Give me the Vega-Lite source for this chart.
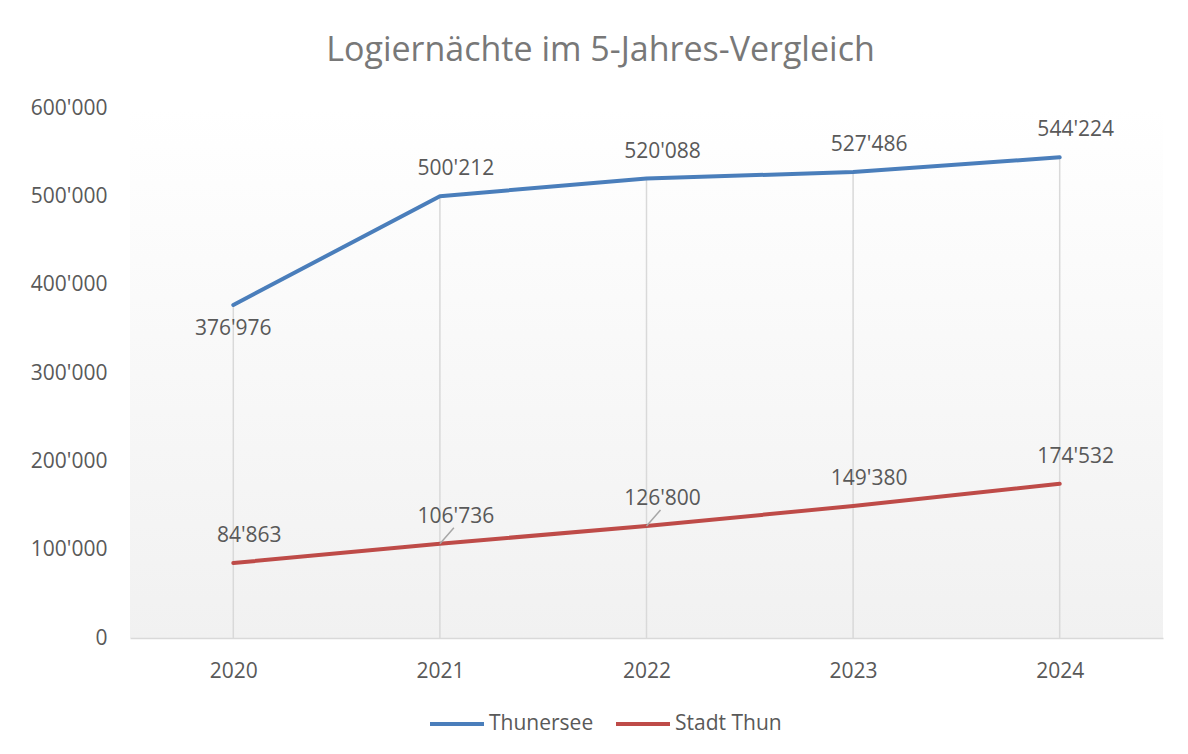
{
  "$schema": "https://vega.github.io/schema/vega-lite/v6.json",
  "autosize": "none",
  "width": 1033,
  "height": 530,
  "padding": {"left": 130, "top": 108, "right": 25, "bottom": 116},
  "background": "#ffffff",
  "title": {
    "text": "Logiernächte im 5-Jahres-Vergleich",
    "font": "Open Sans",
    "fontSize": 34,
    "fontWeight": "normal",
    "color": "#787878",
    "anchor": "middle",
    "baseline": "alphabetic",
    "offset": 2,
    "dx": -46
  },
  "config": {
    "locale": {"number": {"decimal": ".", "thousands": "'", "grouping": [3], "currency": ["CHF ", ""]}},
    "font": "Open Sans",
    "view": {
      "stroke": null,
      "fill": {"gradient": "linear", "x1": 0, "y1": 0, "x2": 0, "y2": 1,
        "stops": [{"offset": 0, "color": "#ffffff"}, {"offset": 1, "color": "#f1f1f1"}]}
    }
  },
  "data": {
    "values": [
      {"year": "2020", "series": "Thunersee", "value": 376976},
      {"year": "2021", "series": "Thunersee", "value": 500212},
      {"year": "2022", "series": "Thunersee", "value": 520088},
      {"year": "2023", "series": "Thunersee", "value": 527486},
      {"year": "2024", "series": "Thunersee", "value": 544224},
      {"year": "2020", "series": "Stadt Thun", "value": 84863},
      {"year": "2021", "series": "Stadt Thun", "value": 106736},
      {"year": "2022", "series": "Stadt Thun", "value": 126800},
      {"year": "2023", "series": "Stadt Thun", "value": 149380},
      {"year": "2024", "series": "Stadt Thun", "value": 174532}
    ]
  },
  "encoding": {
    "x": {
      "field": "year", "type": "ordinal",
      "scale": {"type": "point", "padding": 0.5},
      "axis": {
        "title": null, "labelAngle": 0, "grid": false, "ticks": false,
        "domain": true, "domainColor": "#d9d9d9", "domainWidth": 1.5,
        "labelFontSize": 21, "labelColor": "#595959", "labelPadding": 22
      }
    },
    "y": {
      "field": "value", "type": "quantitative",
      "scale": {"domain": [0, 600000], "nice": false, "zero": true},
      "axis": {
        "title": null, "grid": false, "ticks": false, "domain": false,
        "values": [0, 100000, 200000, 300000, 400000, 500000, 600000],
        "format": ",d", "labelFontSize": 21, "labelColor": "#595959", "labelPadding": 23
      }
    }
  },
  "layer": [
    {
      "transform": [{"filter": "datum.series == 'Thunersee'"}],
      "mark": {"type": "rule", "color": "#d9d9d9", "strokeWidth": 1.5},
      "encoding": {"y2": {"datum": 0}}
    },
    {
      "mark": {"type": "line", "strokeWidth": 4, "strokeCap": "round", "strokeJoin": "round"},
      "encoding": {
        "color": {
          "field": "series", "type": "nominal",
          "scale": {"domain": ["Thunersee", "Stadt Thun"], "range": ["#4a7ebb", "#be4b48"]},
          "legend": {
            "title": null, "orient": "none", "direction": "horizontal",
            "legendX": 298, "legendY": 587,
            "symbolType": "stroke", "symbolSize": 2916, "symbolStrokeWidth": 4,
            "labelFontSize": 21, "labelColor": "#595959", "labelOffset": 3,
            "columnPadding": 14
          }
        }
      }
    },
    {
      "transform": [{"filter": "datum.series == 'Stadt Thun' && (datum.year == '2021' || datum.year == '2022')"}],
      "mark": {"type": "rule", "color": "#a6a6a6", "strokeWidth": 1.5, "x2Offset": 14, "y2Offset": -16},
      "encoding": {
        "x2": {"field": "year"},
        "y2": {"field": "value"}
      }
    },
    {
      "transform": [{"filter": "!(datum.series == 'Thunersee' && datum.year == '2020')"}],
      "mark": {"type": "text", "dx": 16, "dy": -27, "fontSize": 21, "color": "#595959"},
      "encoding": {"text": {"field": "value", "type": "quantitative", "format": ",d"}}
    },
    {
      "transform": [{"filter": "datum.series == 'Thunersee' && datum.year == '2020'"}],
      "mark": {"type": "text", "dx": 0, "dy": 24, "fontSize": 21, "color": "#595959"},
      "encoding": {"text": {"field": "value", "type": "quantitative", "format": ",d"}}
    }
  ]
}
